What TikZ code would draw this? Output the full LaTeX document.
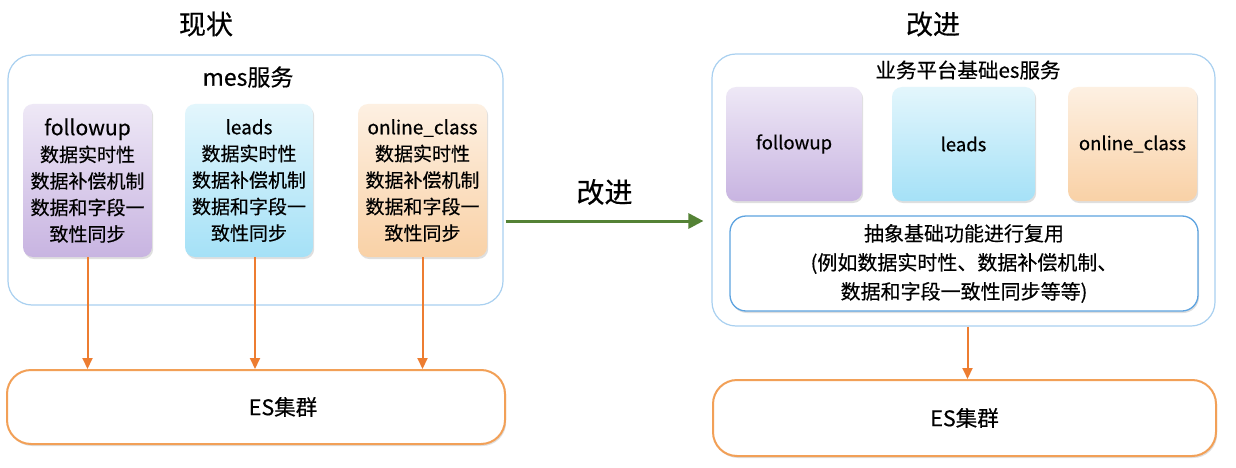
\documentclass[tikz,border=0pt]{standalone}
\usepackage{fontspec}
\setmainfont{Noto Sans CJK SC}[FakeBold=0.4]
\usetikzlibrary{arrows.meta,shadows,calc}
\definecolor{outerblue}{HTML}{A9D0F0}
\definecolor{innerblue}{HTML}{5DA3E0}
\definecolor{esorange}{HTML}{F2A057}
\definecolor{arrorange}{HTML}{ED7D31}
\definecolor{arrgreen}{HTML}{548235}
\definecolor{purT}{HTML}{EEE8F6}
\definecolor{purB}{HTML}{C8B4E1}
\definecolor{bluT}{HTML}{E3F6FC}
\definecolor{bluB}{HTML}{A5E1F7}
\definecolor{orT}{HTML}{FDF0E2}
\definecolor{orB}{HTML}{F9D1A6}
\tikzset{
  x=1pt,y=-1pt,
  outerbox/.style={draw=outerblue,line width=1.2pt,rounded corners=24pt,inner sep=0pt},
  svcbox/.style={rounded corners=10pt,inner sep=0pt,align=center,
     drop shadow={shadow xshift=1.2pt,shadow yshift=-2pt,opacity=0.25}},
  purplebox/.style={svcbox,top color=purT,bottom color=purB},
  bluebox/.style={svcbox,top color=bluT,bottom color=bluB},
  orangebox/.style={svcbox,top color=orT,bottom color=orB},
  esbox/.style={draw=esorange,line width=2pt,rounded corners=24pt,fill=white,inner sep=0pt,
     drop shadow={shadow xshift=1.2pt,shadow yshift=-2pt,opacity=0.25},font=\fontsize{21.5pt}{24pt}\selectfont},
  absbox/.style={draw=innerblue,line width=1.3pt,rounded corners=16pt,fill=white,inner sep=0pt,align=center,
     drop shadow={shadow xshift=1pt,shadow yshift=-2pt,opacity=0.25},font=\fontsize{20pt}{29pt}\selectfont},
  orarrow/.style={draw=arrorange,line width=2pt,-{Triangle[width=10pt,length=11pt]}},
  grarrow/.style={draw=arrgreen,line width=3pt,-{Triangle[width=15pt,length=15pt]}},
  plain/.style={inner sep=0pt},
  lefttext/.style={font=\fontsize{19pt}{26.5pt}\selectfont},
}
\begin{document}
\begin{tikzpicture}
\useasboundingbox[fill=white] (0,0) rectangle (1236,468);
% titles
\node[plain,font=\fontsize{27pt}{30pt}\selectfont] (t1) at (206,24) {现状};
\node[plain,font=\fontsize{27pt}{30pt}\selectfont] (t2) at (933,24) {改进};
% left outer
\node[outerbox,minimum width=495pt,minimum height=250pt] (lo) at (255.5,180) {};
\node[plain,font=\fontsize{23pt}{26pt}\selectfont] (lot) at (248,77) {mes服务};
\node[purplebox,minimum width=129pt,minimum height=153pt,lefttext] (lf) at (87.5,180.5)
  {{\fontsize{21pt}{26.5pt}\selectfont followup}\\数据实时性\\数据补偿机制\\数据和字段一\\致性同步};
\node[bluebox,minimum width=128pt,minimum height=153pt,lefttext] (ll) at (249,180.5)
  {leads\\数据实时性\\数据补偿机制\\数据和字段一\\致性同步};
\node[orangebox,minimum width=129pt,minimum height=153pt,lefttext] (lc) at (422.5,180.5)
  {online\_class\\数据实时性\\数据补偿机制\\数据和字段一\\致性同步};
% left ES
\node[esbox,minimum width=498pt,minimum height=74pt,label={[plain,xshift=27pt,font=\fontsize{21.5pt}{24pt}\selectfont]center:ES集群}] (les) at (256,407) {};
\draw[orarrow] (lf.south) -- (lf.south |- les.north);
\draw[orarrow] ([xshift=6pt]ll.south) -- ([xshift=6pt]ll.south |- les.north);
\draw[orarrow] (lc.south) -- (lc.south |- les.north);
% right outer
\node[outerbox,minimum width=503pt,minimum height=272pt] (ro) at (963.5,190) {};
\node[plain,font=\fontsize{20.5pt}{24pt}\selectfont] (rot) at (968,70) {业务平台基础es服务};
\node[purplebox,minimum width=136pt,minimum height=114pt,font=\fontsize{18.5pt}{22pt}\selectfont] (rf) at (794,144) {followup};
\node[bluebox,minimum width=143pt,minimum height=114pt,font=\fontsize{18.5pt}{22pt}\selectfont] (rl) at (963.5,144) {leads};
\node[orangebox,minimum width=129pt,minimum height=114pt,font=\fontsize{18.5pt}{22pt}\selectfont] (rc) at (1132.5,144) {online\_class};
\node[absbox,minimum width=468pt,minimum height=95pt] (ab) at (964,263.5)
  {抽象基础功能进行复用\\(例如数据实时性、数据补偿机制、\\数据和字段一致性同步等等)};
% right ES
\node[esbox,minimum width=503pt,minimum height=76pt] (res) at (964.5,418) {ES集群};
\draw[orarrow] ([xshift=4pt]ro.south) -- ([xshift=4pt]ro.south |- res.north);
% green arrow
\coordinate (ga) at ([yshift=-41pt,xshift=2pt]lo.east);
\draw[grarrow] (ga) -- ([xshift=-8pt]ro.west |- ga)
  node[plain,midway,yshift=29pt,font=\fontsize{28pt}{30pt}\selectfont] (gl) {改进};
\end{tikzpicture}
\end{document}
